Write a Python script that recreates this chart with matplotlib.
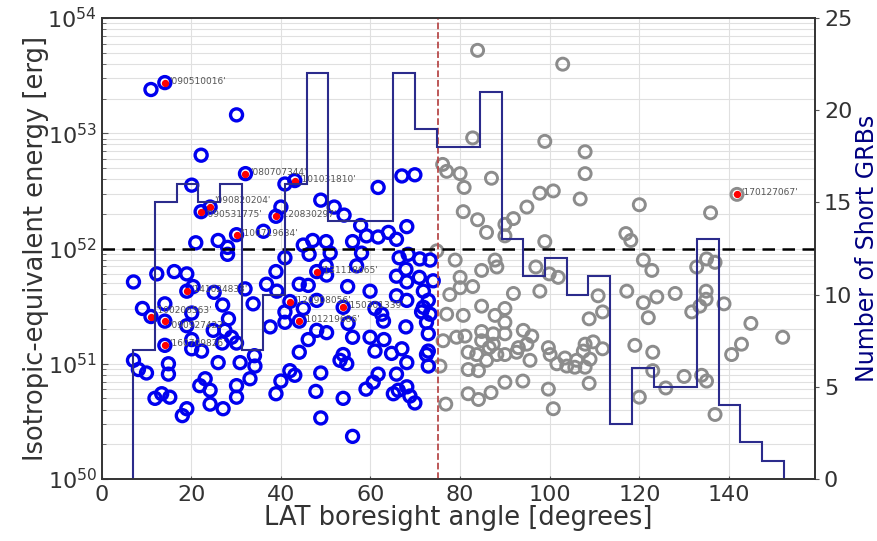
import numpy as np
import matplotlib
matplotlib.use("Agg")
import matplotlib.pyplot as plt

# short GRBs inside the LAT field of view (angle < 75 deg): angle [deg], log10(Eiso/erg)
in_fov_angle = [
    11.0, 14.1, 30.1, 22.2, 32.1, 20.1, 22.2, 24.2, 30.1, 26.0, 21.0, 28.1, 28.1,
    7.1, 12.3, 16.2, 19.0, 19.0, 20.4, 25.1, 32.0, 33.8, 14.1, 9.1, 11.0, 14.1,
    20.1, 19.0, 27.0, 28.3, 24.9, 27.5, 29.0, 30.1, 26.9, 20.1, 14.1, 20.1, 22.3,
    7.1, 8.2, 10.0, 14.9, 14.9, 26.0, 30.9, 34.1, 34.2, 33.1, 23.1, 21.9, 24.2,
    30.1, 30.1, 11.9, 13.4, 15.2, 24.2, 27.1, 19.0, 18.0,
    40.9, 43.1, 48.9, 51.9, 54.1, 61.7, 67.0, 69.9, 40.0, 38.9, 36.1, 57.8, 59.1,
    61.7, 64.0, 65.8, 68.1, 45.0, 47.1, 50.1, 46.3, 51.0, 56.0, 58.0, 40.9, 38.9,
    36.8, 39.1, 44.1, 46.1, 48.0, 50.1, 50.2, 56.9, 54.9, 59.9, 65.8, 67.9, 68.1,
    70.9, 71.8, 74.0, 66.4, 68.4, 71.0, 73.3, 42.0, 40.9, 45.0, 44.1, 48.0, 53.9,
    61.0, 62.5, 62.9, 65.8, 68.1, 71.8, 72.9, 72.5, 72.9, 37.6, 48.0, 50.2, 55.0,
    56.0, 59.9, 63.0, 67.9, 46.1, 44.1, 53.9, 53.2, 54.7, 61.0, 64.7, 67.0, 68.1,
    65.8, 72.5, 72.9, 42.0, 43.1, 40.0, 38.9, 48.9, 47.8, 53.9, 59.0, 61.7, 60.6,
    65.1, 66.2, 68.1, 68.8, 69.9, 48.9, 56.0, 71.4, 73.3, 72.9, 40.9,
]
in_fov_logE = [
    53.38, 53.44, 53.16, 52.81, 52.65, 52.55, 52.32, 52.36, 52.12, 52.07, 52.05, 52.01, 51.95,
    51.71, 51.78, 51.80, 51.78, 51.63, 51.67, 51.62, 51.65, 51.52, 51.52, 51.48, 51.41, 51.37,
    51.44, 51.33, 51.51, 51.39, 51.29, 51.29, 51.23, 51.18, 51.18, 51.21, 51.16, 51.13, 51.11,
    51.03, 50.95, 50.92, 51.00, 50.91, 51.01, 51.01, 51.07, 50.98, 50.87, 50.87, 50.81, 50.77,
    50.81, 50.71, 50.70, 50.74, 50.71, 50.65, 50.61, 50.61, 50.55,
    52.56, 52.59, 52.42, 52.36, 52.29, 52.53, 52.63, 52.64, 52.36, 52.28, 52.15, 52.20, 52.11,
    52.10, 52.14, 52.08, 52.19, 52.03, 52.07, 52.06, 51.95, 51.96, 52.06, 51.96, 51.92, 51.80,
    51.69, 51.63, 51.69, 51.68, 51.80, 51.85, 51.77, 51.85, 51.67, 51.63, 51.76, 51.82, 51.71,
    51.75, 51.63, 51.72, 51.92, 51.95, 51.91, 51.90, 51.54, 51.45, 51.48, 51.37, 51.55, 51.49,
    51.48, 51.43, 51.37, 51.59, 51.55, 51.49, 51.55, 51.36, 51.26, 51.32, 51.29, 51.27, 51.35,
    51.23, 51.23, 51.21, 51.32, 51.21, 51.10, 51.08, 51.03, 51.00, 51.11, 51.09, 51.13, 51.01,
    50.91, 51.08, 50.98, 50.94, 50.90, 50.85, 50.74, 50.92, 50.76, 50.70, 50.78, 50.91, 50.84,
    50.74, 50.77, 50.80, 50.72, 50.66, 50.53, 50.37, 51.45, 51.43, 51.11, 51.36,
]

# short GRBs outside the field of view (angle > 75 deg)
out_fov_angle = [
    83.9, 102.9, 82.8, 98.9, 107.9, 107.9, 76.1, 77.0, 80.0, 80.9, 87.0, 97.8, 100.8,
    106.8, 94.9, 91.9, 90.0, 90.0, 80.7, 83.9, 85.9, 98.9, 120.0, 135.9, 117.0, 118.1,
    74.8, 78.9, 87.8, 84.8, 88.2, 96.9, 99.9, 101.9, 120.9, 122.8, 132.8, 135.0, 136.9,
    80.0, 82.8, 77.7, 80.0, 91.9, 97.8, 110.8, 117.2, 120.9, 123.9, 128.0, 134.9, 134.9,
    133.5, 131.7, 138.9, 77.0, 80.7, 84.8, 87.8, 90.0, 90.0, 108.8, 111.8, 122.0, 144.9,
    152.0, 76.2, 79.2, 81.1, 84.8, 84.8, 87.4, 87.4, 90.0, 94.1, 96.0, 86.5, 81.8, 83.7,
    85.9, 88.2, 90.0, 92.6, 93.0, 94.9, 95.6, 99.7, 100.1, 101.6, 103.4, 103.8, 106.0,
    105.6, 107.5, 107.9, 109.0, 107.9, 109.7, 111.8, 119.0, 123.0, 140.6, 142.8, 75.5,
    81.8, 84.1, 90.0, 94.0, 81.8, 84.1, 86.9, 99.7, 108.8, 123.0, 125.9, 130.0, 133.9,
    135.0, 120.0, 76.8, 100.8, 136.9,
]
out_fov_logE = [
    53.72, 53.60, 52.96, 52.93, 52.84, 52.65, 52.73, 52.67, 52.65, 52.53, 52.61, 52.48, 52.50,
    52.43, 52.36, 52.26, 52.21, 52.11, 52.32, 52.25, 52.14, 52.06, 52.38, 52.31, 52.13, 52.07,
    51.98, 51.90, 51.90, 51.81, 51.84, 51.84, 51.78, 51.75, 51.90, 51.81, 51.84, 51.91, 51.88,
    51.75, 51.67, 51.60, 51.66, 51.61, 51.63, 51.59, 51.63, 51.53, 51.58, 51.61, 51.63, 51.56,
    51.50, 51.45, 51.52, 51.43, 51.42, 51.50, 51.42, 51.48, 51.36, 51.39, 51.45, 51.40, 51.35,
    51.23, 51.20, 51.23, 51.24, 51.28, 51.20, 51.26, 51.17, 51.26, 51.29, 51.24, 51.14, 51.10, 51.08,
    51.03, 51.08, 51.08, 51.10, 51.14, 51.17, 51.03, 51.14, 51.08, 51.00, 51.05, 50.98, 51.03,
    50.97, 51.11, 51.17, 51.04, 50.97, 51.19, 51.13, 51.16, 51.10, 51.08, 51.17, 50.98,
    50.95, 50.94, 50.84, 50.85, 50.74, 50.69, 50.75, 50.78, 50.83, 50.94, 50.79, 50.89, 50.90,
    50.85, 50.71, 50.65, 50.61, 50.56,
]

# bursts marked in red with their names
named_angle = [14.1, 32.1, 43.1, 24.2, 22.2, 30.1, 38.9, 19.0, 11.0, 14.1, 14.1, 48.0, 42.0, 44.1, 53.9, 141.8]
named_logE = [53.44, 52.65, 52.59, 52.36, 52.32, 52.12, 52.28, 51.63, 51.41, 51.37, 51.16, 51.80, 51.54, 51.37, 51.49, 52.47]
named_grb = ['090510016', '080707344', '101031810', '090820204', '090531775', '100719634',
             '120830297', '141024833', '100206563', '090927422', '160709826', '131118065',
             '120908056', '101219686', '150301339', '170127067']

# histogram of boresight angles (30 bins)
hist_range = (7.05, 152.2)
hist_counts = [7, 15, 16, 15, 16, 7, 10, 16, 22, 14, 14, 14, 22, 19, 18,
               18, 21, 13, 11, 12, 10, 11, 3, 6, 5, 5, 13, 4, 2, 1]

txt = '#333333'
fig = plt.figure(figsize=(8.78, 5.41), dpi=100)
ax = fig.add_axes([0.1158, 0.1146, 0.8124, 0.852])

ax.set_yscale('log')
ax.set_xlim(0, 159.2)
ax.set_ylim(1e50, 1e54)
ax.grid(which='both', axis='y', color='#e0e0e0', lw=0.8)
ax.grid(which='major', axis='x', color='#e0e0e0', lw=0.8)
ax.set_axisbelow(True)

ax.scatter(out_fov_angle, 10 ** np.array(out_fov_logE), s=75, facecolors='none',
           edgecolors='#8c8c8c', linewidths=2.1, zorder=2)
ax.scatter(in_fov_angle, 10 ** np.array(in_fov_logE), s=75, facecolors='none',
           edgecolors='#0000ee', linewidths=2.4, zorder=3)
ax.scatter(named_angle[-1], 10 ** named_logE[-1], s=75, facecolors='none',
           edgecolors='#8c8c8c', linewidths=2.1, zorder=3)
ax.scatter(named_angle, 10 ** np.array(named_logE), s=18, color='red', zorder=4)

# small vertical shifts so overlapping names stay readable
label_dy = {'090820204': 4, '090531775': -3, '100206563': 3, '090927422': -4}
for a, e, name in zip(named_angle, named_logE, named_grb):
    ax.annotate("'" + name + "'", (a, 10 ** e), xytext=(3, 1 + label_dy.get(name, 0)),
                textcoords='offset points', fontsize=6.5, color='#555555',
                va='center', zorder=5)

ax.axhline(1e52, color='black', ls='--', lw=1.8, dashes=(5, 3), zorder=4)
ax.axvline(75, color='#b84a4a', ls='--', lw=1.3, zorder=4)

ax.set_xticks(np.arange(0, 160, 20))
ax.set_yticks([1e50, 1e51, 1e52, 1e53, 1e54])
ax.tick_params(axis='both', which='both', direction='in', colors='#555555',
               labelcolor=txt, labelsize=16)
ax.tick_params(axis='x', length=2, pad=4)
ax.tick_params(axis='y', which='major', length=4)
ax.tick_params(axis='y', which='minor', length=3)
ax.set_xlabel('LAT boresight angle [degrees]', fontsize=18.5, color=txt, labelpad=0)
ax.set_ylabel('Isotropic-equivalent energy [erg]', fontsize=18.5, color=txt, labelpad=-1)
for sp in ax.spines.values():
    sp.set_color('#333333')
    sp.set_linewidth(1.2)

ax2 = ax.twinx()
edges = np.linspace(hist_range[0], hist_range[1], len(hist_counts) + 1)
ax2.stairs(hist_counts, edges, color='#2b2b8c', lw=1.5, baseline=0)
ax2.set_ylim(0, 25)
ax2.set_yticks([0, 5, 10, 15, 20, 25])
ax2.tick_params(axis='y', direction='out', length=3, colors='#555555',
                labelcolor=txt, labelsize=16)
ax2.set_ylabel('Number of Short GRBs', fontsize=17, color='#000080', labelpad=2)
for sp in ax2.spines.values():
    sp.set_color('#333333')
    sp.set_linewidth(1.2)

fig.savefig('out.png', dpi=100)
